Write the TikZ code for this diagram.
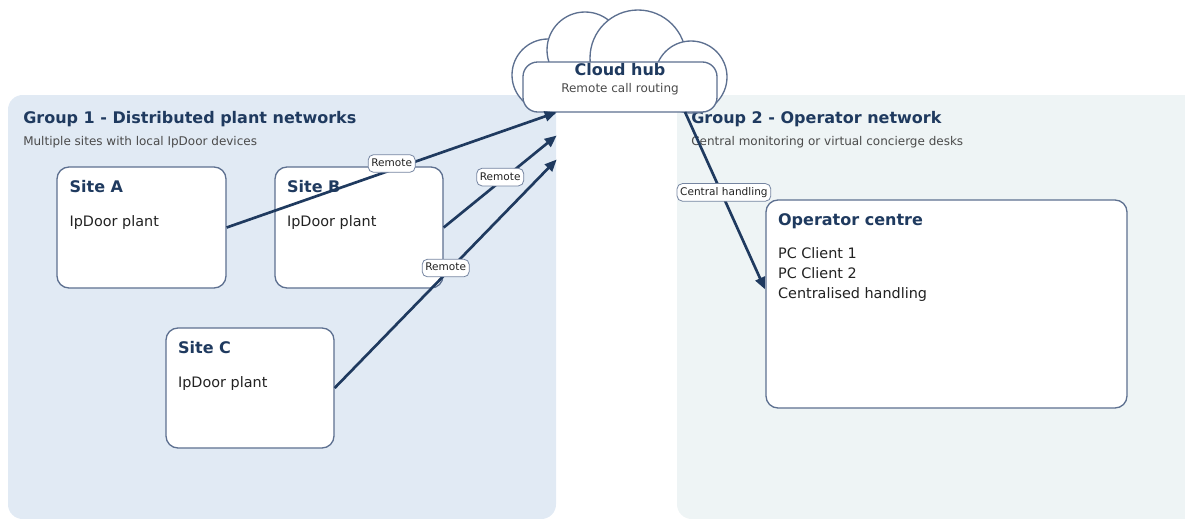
\documentclass[tikz,border=0pt]{standalone}
\usepackage{fontspec}
\setmainfont{DejaVu Sans}
\usetikzlibrary{arrows.meta,fit,calc}
\definecolor{navy}{HTML}{1F3A5F}
\definecolor{edge}{HTML}{5D7090}
\definecolor{gAfill}{HTML}{E1EAF4}
\definecolor{gBfill}{HTML}{EEF4F5}
\definecolor{bodytxt}{HTML}{222222}
\definecolor{subt}{HTML}{4A4A4A}
\begin{document}
\begin{tikzpicture}[x=0.75pt,y=-0.75pt,
  grp/.style={rounded corners=11pt, inner sep=0pt, draw=none},
  box/.style={draw=edge, line width=1pt, fill=white, rounded corners=9pt, inner sep=0pt},
  ttl/.style={font=\fontsize{12}{14}\selectfont\bfseries, text=navy, inner sep=0pt, anchor=base west},
  sub/.style={font=\fontsize{9}{11}\selectfont, text=subt, inner sep=0pt, anchor=base west},
  txt/.style={font=\fontsize{10.8}{13}\selectfont, text=bodytxt, inner sep=0pt, anchor=base west},
  arr/.style={draw=navy, line width=2pt, -{Triangle[length=9pt,width=7.5pt]}},
  lbl/.style={draw=edge!85, line width=0.6pt, fill=white, rounded corners=4pt,
    font=\fontsize{7.9}{9}\selectfont, text=bodytxt, inner xsep=2.4pt, inner ysep=2.8pt,
    text height=6pt, text depth=1.6pt},
  cloudc/.style={draw=edge, line width=1pt, fill=white}
]
\useasboundingbox (0,0) rectangle (1185,518);
% groups
\node[grp, fill=gAfill, fit={(8,95) (556,519)}] (g1) {};
\node[grp, fill=gBfill, fit={(677,95) (1205,519)}] (g2) {};
\node[ttl] (g1t) at (23,123) {Group 1 - Distributed plant networks};
\node[sub] (g1s) at (23,145) {Multiple sites with local IpDoor devices};
\node[ttl] (g2t) at (691,123) {Group 2 - Operator network};
\node[sub] (g2s) at (691,145) {Central monitoring or virtual concierge desks};
% cloud
\draw[cloudc] (548,75) circle[radius=36];
\draw[cloudc] (585,50) circle[radius=38];
\draw[cloudc] (638,58) circle[radius=48];
\draw[cloudc] (691,77) circle[radius=36];
\node[box, rounded corners=11pt, fit={(523,62) (717,112)}] (hub) {};
\node[ttl, anchor=base] (hubt) at (620,75) {Cloud hub};
\node[sub, anchor=base] (hubs) at (620,92.7) {Remote call routing};
% sites
\node[box, fit={(57,167) (226,288)}] (A) {};
\node[ttl] (At) at ($(A.north west)+(13,26)$) {Site A};
\node[txt] (Ab) at ($(A.north west)+(13,60)$) {IpDoor plant};
\node[box, fit={(275,167) (443,288)}] (B) {};
\node[ttl] (Bt) at ($(B.north west)+(12.5,26)$) {Site B};
\node[txt] (Bb) at ($(B.north west)+(12.5,60)$) {IpDoor plant};
\node[box, fit={(166,328) (334,448)}] (C) {};
\node[ttl] (Ct) at ($(C.north west)+(12.5,26)$) {Site C};
\node[txt] (Cb) at ($(C.north west)+(12.5,60)$) {IpDoor plant};
\node[box, fit={(766,200) (1127,408)}] (O) {};
\node[ttl] (Ot) at ($(O.north west)+(12.5,26)$) {Operator centre};
\node[txt] (O1) at ($(O.north west)+(12.5,59.3)$) {PC Client 1};
\node[txt] (O2) at ($(O.north west)+(12.5,79.3)$) {PC Client 2};
\node[txt] (O3) at ($(O.north west)+(12.5,99.3)$) {Centralised handling};
% connectors
\coordinate (tA) at (556.7,112.3);
\coordinate (tB) at (556.7,135.5);
\coordinate (tC) at (556.7,159.5);
\coordinate (cs) at (685,112);
\coordinate (tO) at (765,289.3);
\draw[arr] (A.east) -- (tA) node[lbl, pos=0.5, yshift=4.8pt] {Remote};
\draw[arr] (B.east) -- (tB) node[lbl, pos=0.5, yshift=3.3pt] {Remote};
\draw[arr] (C.east) -- (tC) node[lbl, pos=0.5, yshift=4.3pt] {Remote};
\draw[arr] (cs) -- (tO) node[lbl, pos=0.5, yshift=6.2pt, xshift=-0.8pt] {Central handling};
\end{tikzpicture}
\end{document}
